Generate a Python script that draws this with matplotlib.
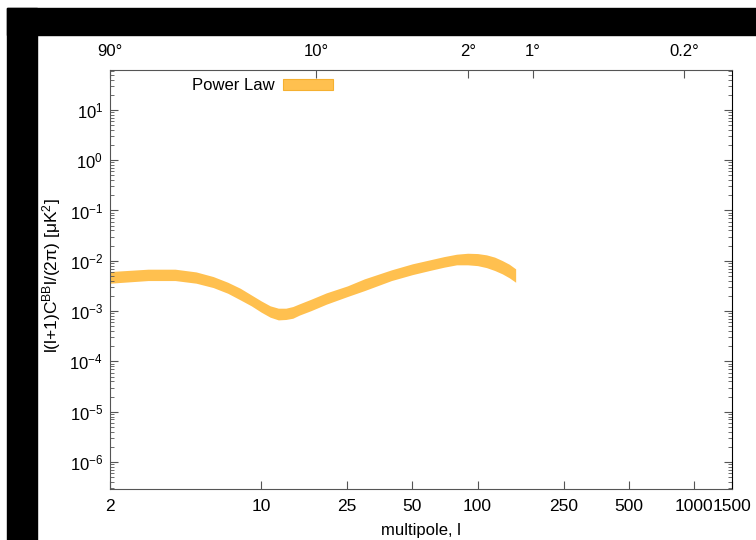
import numpy as np
import matplotlib
matplotlib.use("Agg")
import matplotlib.pyplot as plt
from matplotlib.patches import Patch, Rectangle
from matplotlib.ticker import LogLocator, NullLocator, FixedLocator, FixedFormatter

plt.rcParams["font.family"] = ["Liberation Sans", "DejaVu Sans"]
plt.rcParams["font.size"] = 12
plt.rcParams["mathtext.fontset"] = "custom"
plt.rcParams["mathtext.rm"] = "Liberation Sans"
plt.rcParams["mathtext.it"] = "Liberation Sans:italic"
plt.rcParams["mathtext.default"] = "regular"

# BB band (power-law model), upper/lower edges per multipole
ell = [2, 3, 4, 5, 6, 7, 8, 9, 10, 11, 12, 13, 14, 15, 17, 20, 25, 30,
       40, 50, 60, 70, 80, 90, 100, 110, 120, 130, 140, 150]
band_hi = [6.1e-3, 6.8e-3, 6.8e-3, 6.0e-3, 4.85e-3, 3.74e-3, 2.84e-3,
           2.09e-3, 1.59e-3, 1.27e-3, 1.14e-3, 1.14e-3, 1.23e-3, 1.39e-3,
           1.72e-3, 2.3e-3, 3.16e-3, 4.37e-3, 6.6e-3, 8.7e-3, 1.04e-2,
           1.21e-2, 1.35e-2, 1.41e-2, 1.39e-2, 1.31e-2, 1.18e-2, 1.01e-2,
           8.55e-3, 6.9e-3]
band_lo = [3.58e-3, 4.04e-3, 4.04e-3, 3.58e-3, 2.93e-3, 2.26e-3, 1.67e-3,
           1.27e-3, 9.5e-4, 7.55e-4, 6.67e-4, 6.8e-4, 7.2e-4, 8.3e-4,
           1.02e-3, 1.37e-3, 1.94e-3, 2.55e-3, 4.04e-3, 5.3e-3, 6.4e-3,
           7.45e-3, 8.3e-3, 8.3e-3, 8.0e-3, 7.3e-3, 6.4e-3, 5.5e-3,
           4.6e-3, 3.74e-3]

x_ticks = [2, 10, 25, 50, 100, 250, 500, 1000, 1500]
deg_ticks = [90, 10, 2, 1, 0.2]
deg_labels = ["90°", "10°", "2°", "1°", "0.2°"]

BAND = "#FFC04F"
SPINE = "#555555"

fig = plt.figure(figsize=(7.56, 5.40), dpi=100)
ax = fig.add_axes([110 / 756, 51 / 540, 622 / 756, 419 / 540])

ax.fill_between(ell, band_lo, band_hi, color=BAND, lw=0)

ax.set_xscale("log")
ax.set_yscale("log")
ax.set_xlim(2, 1500)
ax.set_ylim(2.9e-7, 62)

ax.xaxis.set_major_locator(FixedLocator(x_ticks))
ax.xaxis.set_major_formatter(FixedFormatter([str(t) for t in x_ticks]))
ax.xaxis.set_minor_locator(NullLocator())
ax.yaxis.set_major_locator(LogLocator(base=10, numticks=20))
ax.yaxis.set_minor_locator(LogLocator(base=10, subs=np.arange(2, 10), numticks=100))

ax.tick_params(which="both", direction="in", right=True, colors=SPINE,
               labelcolor="black")
ax.tick_params(axis="x", which="major", length=6, pad=7, labelsize=12.5)
ax.tick_params(axis="y", which="major", length=6, pad=5)
ax.tick_params(axis="y", which="minor", length=3)
for side in ("left", "bottom", "top"):
    ax.spines[side].set_color(SPINE)
ax.spines["right"].set_color("black")

ax.set_xlabel("multipole, l")
ax.xaxis.set_label_coords(0.5, -0.08)
ax.xaxis.label.set_va("top")
ax.set_ylabel(r"l(l+1)C$^{BB}$l/(2$\pi$) [$\mu$K$^2$]", fontsize=12.5)
ax.yaxis.set_label_coords(-0.076, 0.51)

# angular scale along the top
top = ax.twiny()
top.set_xscale("log")
top.set_xlim(ax.get_xlim())
top.xaxis.set_major_locator(FixedLocator([180.0 / d for d in deg_ticks]))
top.xaxis.set_major_formatter(FixedFormatter(deg_labels))
top.xaxis.set_minor_locator(NullLocator())
top.tick_params(direction="in", length=6, pad=8, colors=SPINE,
                labelcolor="black")
for s in top.spines.values():
    s.set_visible(False)

ax.legend(handles=[Patch(facecolor=BAND, edgecolor="#F5B030", lw=0.8,
                         label="Power Law")],
          loc="center right", bbox_to_anchor=(0.3585, 0.9625),
          frameon=False, markerfirst=False, handlelength=3.0,
          handleheight=0.7, handletextpad=0.5, borderpad=0, borderaxespad=0)

# dark border strips
fig.patches.append(Rectangle((7 / 756, 505 / 540), 749 / 756, 27 / 540,
                             transform=fig.transFigure, color="black", zorder=0))
fig.patches.append(Rectangle((7 / 756, 0), 30 / 756, 532 / 540,
                             transform=fig.transFigure, color="black", zorder=0))

fig.savefig("out.png", dpi=100)
